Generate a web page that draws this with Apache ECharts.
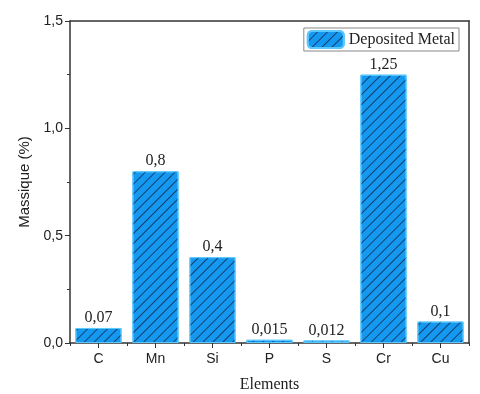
<!DOCTYPE html>
<html><head><meta charset="utf-8">
<script src="https://cdn.jsdelivr.net/npm/echarts@6/dist/echarts.min.js"></script>
<style>html,body{margin:0;padding:0;background:#fff}#c{width:480px;height:394px}</style>
</head><body><div id="c"></div>
<script>
const categories = ['C','Mn','Si','P','S','Cr','Cu'];
const values = [0.07, 0.8, 0.4, 0.015, 0.012, 1.25, 0.1];
const valueLabels = ['0,07','0,8','0,4','0,015','0,012','1,25','0,1'];
const seriesName = 'Deposited Metal';

const chart = echarts.init(document.getElementById('c'));
const axisColor = '#333';
chart.setOption({
  animation: false,
  grid: {left: 70, right: 11, top: 21, bottom: 51, containLabel: false, outerBoundsMode: 'none'},
  legend: {
    data: [seriesName], right: 21, top: 28, itemWidth: 36, itemHeight: 17, itemGap: 5,
    padding: [2, 4, 2, 3], borderColor: '#888', borderWidth: 1, borderRadius: 0,
    textStyle: {fontFamily: 'Liberation Serif', fontSize: 16, color: '#222'}
  },
  xAxis: [{
    type: 'category', data: categories,
    name: 'Elements', nameLocation: 'middle', nameGap: 34,
    nameTextStyle: {fontFamily: 'Liberation Serif', fontSize: 16, color: '#222'},
    axisLine: {onZero: false, lineStyle: {color: axisColor, width: 1.5}},
    axisTick: {show: true, alignWithLabel: true, length: 5, lineStyle: {color: axisColor}},
    axisLabel: {fontFamily: 'Liberation Sans', fontSize: 14, color: '#222', margin: 9}
  }, {
    type: 'category', data: categories, position: 'bottom', offset: 0,
    axisLine: {show: false, onZero: false},
    axisTick: {show: true, alignWithLabel: false, length: 3, lineStyle: {color: axisColor}},
    axisLabel: {show: false}
  }, {
    type: 'category', data: categories, position: 'top', offset: 0,
    axisLine: {onZero: false, lineStyle: {color: axisColor, width: 1.5}}, axisTick: {show: false}, axisLabel: {show: false}
  }],
  yAxis: [{
    type: 'value', min: 0, max: 1.5, interval: 0.5,
    name: 'Massique (%)', nameLocation: 'middle', nameGap: 27,
    nameTextStyle: {fontFamily: 'Liberation Sans', fontSize: 15, color: '#222'},
    axisLine: {show: true, onZero: false, lineStyle: {color: axisColor, width: 1.5}},
    axisTick: {show: true, length: 5, lineStyle: {color: axisColor}},
    minorTick: {show: true, splitNumber: 2, length: 3, lineStyle: {color: axisColor}},
    splitLine: {show: false},
    axisLabel: {fontFamily: 'Liberation Sans', fontSize: 14, color: '#222', margin: 7,
      formatter: v => v.toFixed(1).replace('.', ',')}
  }, {
    type: 'value', min: 0, max: 1.5, position: 'right', offset: 0,
    axisLine: {show: true, onZero: false, lineStyle: {color: axisColor, width: 1.5}},
    axisTick: {show: false}, axisLabel: {show: false}, splitLine: {show: false}
  }],
  series: [{
    name: seriesName, type: 'bar', data: values, barCategoryGap: '19%',
    itemStyle: {
      color: '#1598f0', borderColor: '#5cc8ff', borderWidth: 1,
      decal: {symbol: 'rect', dashArrayX: [1, 0], dashArrayY: [1, 6], rotation: -Math.PI / 4, color: 'rgba(15,35,70,0.75)'}
    },
    label: {show: true, position: 'top', distance: 2, fontFamily: 'Liberation Serif', fontSize: 16, color: '#222',
      formatter: p => valueLabels[p.dataIndex]}
  }]
});
</script></body></html>
